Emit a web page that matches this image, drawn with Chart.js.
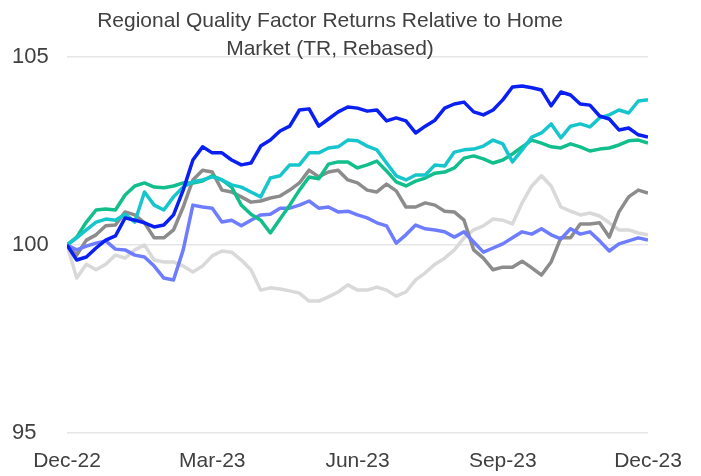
<!DOCTYPE html>
<html>
<head>
<meta charset="utf-8">
<title>Regional Quality Factor Returns</title>
<script src="https://cdn.jsdelivr.net/npm/chart.js@4.4.0/dist/chart.umd.min.js"></script>
<style>
    body { margin: 0; background: #ffffff; }
</style>
</head>
<body>
<canvas id="grafico1" width="701" height="476"></canvas>
<script>
// rebased total return index, relative to home market (start = 100)
const tickLabels = ['Dec-22', 'Mar-23', 'Jun-23', 'Sep-23', 'Dec-23'];

const darkBlue = [100.00, 99.60, 99.68, 99.92, 100.13, 100.24, 100.72, 100.66, 100.59, 100.48,
    100.53, 100.80, 101.46, 102.26, 102.61, 102.45, 102.45, 102.26, 102.13, 102.18,
    102.63, 102.79, 103.03, 103.16, 103.59, 103.62, 103.16, 103.35, 103.54, 103.67,
    103.64, 103.56, 103.59, 103.30, 103.38, 103.30, 102.98, 103.16, 103.32, 103.64,
    103.75, 103.80, 103.54, 103.46, 103.59, 103.86, 104.20, 104.23, 104.18, 104.12,
    103.70, 104.07, 103.99, 103.75, 103.72, 103.43, 103.35, 103.06, 103.11, 102.93, 102.87];

const teal = [100.00, 100.19, 100.40, 100.61, 100.69, 100.66, 100.82, 100.61, 101.41, 101.06,
    100.93, 101.28, 101.54, 101.68, 101.73, 101.81, 101.73, 101.60, 101.54, 101.41,
    101.28, 101.78, 101.84, 102.13, 102.13, 102.45, 102.45, 102.58, 102.61, 102.79,
    102.77, 102.63, 102.53, 102.18, 101.84, 101.73, 101.86, 101.86, 102.13, 102.10,
    102.47, 102.53, 102.55, 102.63, 102.79, 102.69, 102.21, 102.53, 102.87, 102.98,
    103.22, 102.85, 103.16, 103.22, 103.14, 103.38, 103.46, 103.59, 103.51, 103.83, 103.86];

const green = [100.00, 100.21, 100.61, 100.93, 100.96, 100.93, 101.33, 101.57, 101.65, 101.54,
    101.52, 101.57, 101.65, 101.65, 101.70, 101.84, 101.73, 101.54, 101.06, 100.82,
    100.66, 100.32, 100.69, 101.06, 101.46, 101.81, 101.76, 102.15, 102.21, 102.21,
    102.05, 102.13, 102.23, 101.97, 101.68, 101.57, 101.70, 101.78, 101.91, 101.94,
    102.05, 102.31, 102.37, 102.29, 102.18, 102.26, 102.42, 102.61, 102.79, 102.71,
    102.61, 102.58, 102.69, 102.61, 102.50, 102.55, 102.58, 102.66, 102.77, 102.79, 102.71];

const darkGrey = [100.00, 99.73, 100.13, 100.27, 100.51, 100.53, 100.88, 100.80, 100.59, 100.19,
    100.19, 100.40, 101.01, 101.73, 101.99, 101.94, 101.46, 101.41, 101.28, 101.14,
    101.17, 101.25, 101.30, 101.46, 101.65, 101.99, 101.81, 101.94, 101.99, 101.73,
    101.65, 101.46, 101.41, 101.62, 101.44, 101.01, 101.01, 101.12, 101.06, 100.90,
    100.88, 100.66, 99.87, 99.65, 99.34, 99.41, 99.41, 99.57, 99.39, 99.20,
    99.55, 100.19, 100.19, 100.56, 100.56, 100.59, 100.21, 100.88, 101.28, 101.46, 101.38];

const lightGrey = [100.00, 99.12, 99.49, 99.34, 99.49, 99.73, 99.65, 99.87, 100.00, 99.60,
    99.55, 99.55, 99.44, 99.28, 99.44, 99.71, 99.84, 99.81, 99.60, 99.34,
    98.80, 98.86, 98.83, 98.78, 98.72, 98.51, 98.51, 98.62, 98.75, 98.94,
    98.80, 98.80, 98.88, 98.80, 98.64, 98.75, 99.07, 99.26, 99.49, 99.65,
    99.87, 100.19, 100.40, 100.51, 100.69, 100.66, 100.56, 101.12, 101.57, 101.84,
    101.57, 101.01, 100.90, 100.80, 100.85, 100.77, 100.59, 100.40, 100.40, 100.32, 100.27];

const lightBlue = [100.00, 99.87, 99.97, 100.05, 100.11, 99.89, 99.87, 99.73, 99.68, 99.44,
    99.12, 99.07, 99.87, 101.06, 101.01, 100.98, 100.61, 100.66, 100.51, 100.66,
    100.80, 100.82, 100.98, 100.98, 101.06, 101.17, 100.98, 101.01, 100.88, 100.90,
    100.80, 100.72, 100.59, 100.51, 100.05, 100.27, 100.53, 100.43, 100.40, 100.35,
    100.21, 100.35, 100.08, 99.81, 99.92, 100.03, 100.19, 100.35, 100.29, 100.43,
    100.27, 100.16, 100.43, 100.29, 100.35, 100.11, 99.84, 100.03, 100.11, 100.19, 100.13];

// points are spaced evenly; a tick every 15 points (one quarter)
function toPoints(values) {
    return values.map((v, i) => ({ x: i, y: v }));
}

function linha(data, cor) {
    return {
        data: toPoints(data),
        borderColor: cor,
        backgroundColor: cor,
        borderWidth: 3.5,
        borderJoinStyle: 'round',
        pointRadius: 0,
        tension: 0,
        fill: false
    };
}

const ctx = document.getElementById('grafico1');
const fonte = "'Liberation Sans', Arial, sans-serif";

new Chart(ctx, {
    type: 'line',
    data: {
        datasets: [
            linha(darkBlue, '#0a1ff2'),
            linha(teal, '#17c6cc'),
            linha(green, '#12bf8c'),
            linha(lightBlue, '#6e7dff'),
            linha(darkGrey, '#8c8c8c'),
            linha(lightGrey, '#d9d9d9')
        ]
    },
    options: {
        responsive: false,
        animation: false,
        layout: {
            padding: { left: 12, right: 53, top: 0, bottom: 0 }
        },
        plugins: {
            legend: { display: false },
            tooltip: { enabled: false },
            title: {
                display: true,
                text: ['Regional Quality Factor Returns Relative to Home', 'Market (TR, Rebased)'],
                color: '#404040',
                font: { family: fonte, size: 21, weight: 'normal', lineHeight: 1.333 },
                padding: { top: 7, bottom: -6 }
            }
        },
        scales: {
            x: {
                type: 'linear',
                min: 0,
                max: 60,
                grid: { display: false, drawTicks: false },
                border: { display: false },
                ticks: {
                    stepSize: 15,
                    autoSkip: false,
                    maxRotation: 0,
                    padding: 16,
                    color: '#404040',
                    font: { family: fonte, size: 21 },
                    callback: function (valor) {
                        return tickLabels[valor / 15];
                    }
                },
                afterFit: function (scale) {
                    scale.height = 43;
                }
            },
            y: {
                min: 95,
                max: 105,
                grid: { color: '#e6e6e6', lineWidth: 1.5, drawTicks: false },
                border: { display: false },
                ticks: {
                    stepSize: 5,
                    crossAlign: 'far',
                    color: '#404040',
                    font: { family: fonte, size: 22 }
                },
                afterFit: function (scale) {
                    scale.width = 55;
                }
            }
        }
    }
});
</script>
</body>
</html>
